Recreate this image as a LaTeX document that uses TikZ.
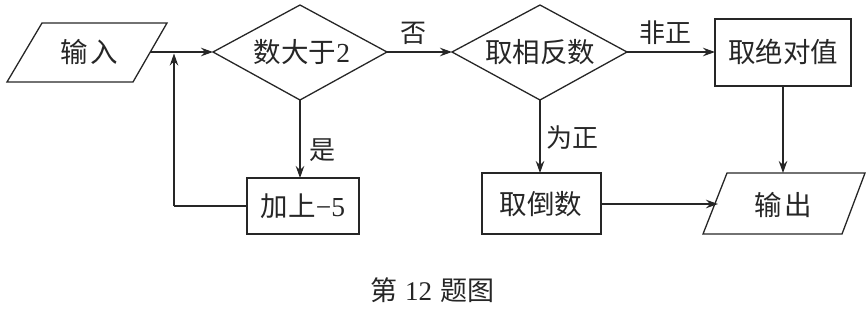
\documentclass[tikz,border=0pt]{standalone}
\usepackage{fontspec}
\setmainfont{Liberation Serif}
\newfontfamily\cjk{Noto Sans CJK SC}
\usetikzlibrary{arrows.meta}
\definecolor{ink}{gray}{0.15}
\tikzset{
  shapeline/.style={draw=ink, line width=1.3pt, line join=miter},
  conn/.style={draw=ink, line width=1.3pt, -{Stealth[length=12pt,width=8.5pt]}},
  plainline/.style={draw=ink, line width=1.3pt},
  txt/.style={inner sep=0pt, text=ink, font=\fontsize{27.5}{32}\selectfont\cjk},
  lbl/.style={inner sep=0pt, text=ink, font=\fontsize{26}{30}\selectfont\cjk},
  captxt/.style={inner sep=0pt, text=ink, font=\fontsize{27}{30}\selectfont\cjk},
}
\begin{document}
\begin{tikzpicture}[x=1pt,y=-1pt]
\useasboundingbox (0,0) rectangle (866,308);
% shapes
\draw[shapeline] (7,82) -- (42,23) -- (167,23) -- (133,82) -- cycle;
\draw[shapeline] (213,52) -- (300,5) -- (387,52) -- (300,100) -- cycle;
\draw[shapeline] (247,178) rectangle (359,234);
\draw[shapeline] (452,52) -- (540,5) -- (627,52) -- (540,100) -- cycle;
\draw[shapeline] (715,19) rectangle (851,86);
\draw[shapeline] (482,173) rectangle (601,234);
\draw[shapeline] (703,234) -- (727,173) -- (865,173) -- (842,234) -- cycle;
% named anchor points
\coordinate (inE) at (150,52);
\coordinate (d1W) at (213,52);
\coordinate (d1E) at (387,52);
\coordinate (d1S) at (300,100);
\coordinate (b1N) at (300,178);
\coordinate (b1W) at (247,206);
\coordinate (lc) at (174,206);
\coordinate (jn) at (174,53.5);
\coordinate (d2W) at (452,52);
\coordinate (d2E) at (627,52);
\coordinate (d2S) at (540,100);
\coordinate (b2W) at (715,52);
\coordinate (b2S) at (783,86);
\coordinate (b3N) at (540,173);
\coordinate (b3E) at (601,204);
\coordinate (outW) at (718,204);
\coordinate (outN) at (783,173);
% texts
\node[txt] (tin) at (89,52) {输\hspace{3pt}入};
\node[txt] (td1) at (302,52) {数大于\fontspec{Liberation Serif}2};
\node[txt] (tb1) at (303,206) {加上\fontspec{Liberation Serif}−5};
\node[txt] (td2) at (540,52) {取相反数};
\node[txt] (tb2) at (783,52) {取绝对值};
\node[txt] (tb3) at (541,204) {取倒数};
\node[txt] (tout) at (783,205) {输\hspace{3pt}出};
\node[lbl] (lyes) at (322,150) {是};
\node[lbl] (lno) at (413,33) {否};
\node[lbl] (lnp) at (665,33) {非正};
\node[lbl] (lpos) at (572,138) {为正};
\node[captxt] (cap) at (432,290) {第\hspace{8pt}\fontspec{Liberation Serif}12\hspace{8pt}\cjk{}题图};
% connectors
\draw[conn] (inE) -- (d1W);
\draw[conn] (d1S) -- (b1N);
\draw[plainline] (b1W) -- (lc);
\draw[conn] (lc) -- (jn);
\draw[conn] (d1E) -- (d2W);
\draw[conn] (d2E) -- (b2W);
\draw[conn] (d2S) -- (b3N);
\draw[conn] (b3E) -- (outW);
\draw[conn] (b2S) -- (outN);
\end{tikzpicture}
\end{document}
